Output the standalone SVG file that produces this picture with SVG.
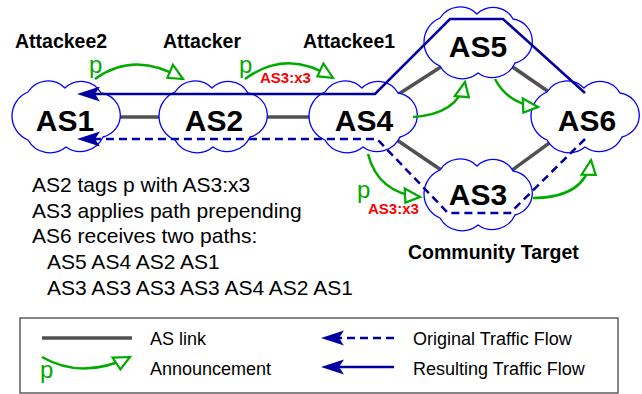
<svg xmlns="http://www.w3.org/2000/svg" width="642" height="394" viewBox="0 0 642 394">
<style>
.cloud{fill:#fff;stroke:#0000ff;stroke-width:1.3}
.asl{font-family:"Liberation Sans",Arial,sans-serif;font-weight:bold;font-size:30px;text-anchor:middle;fill:#000}
.lbl{font-family:"Liberation Sans",Arial,sans-serif;font-weight:bold;font-size:19.5px;fill:#000}
.txt{font-family:"Liberation Sans",Arial,sans-serif;font-size:21px;fill:#000}
.leg{font-family:"Liberation Sans",Arial,sans-serif;font-size:18px;fill:#000}
.p{font-family:"Liberation Sans",Arial,sans-serif;font-size:24px;fill:#00aa00}
.com{font-family:"Liberation Sans",Arial,sans-serif;font-weight:bold;font-size:15px;fill:#ff0000}
.link{stroke:#505050;stroke-width:3.5;fill:none}
.ann{stroke:#00aa00;stroke-width:2.5;fill:none;marker-end:url(#gh)}
.res{stroke:#0000a0;stroke-width:2.5;fill:none;marker-end:url(#bh)}
.orig{stroke:#0000a0;stroke-width:2.5;fill:none;stroke-dasharray:8,5;marker-end:url(#bh)}
</style>
<defs>
<path id="cl" d="M-38,-25 A23.7,23.7 0 0 1 -1,-29 A22.8,22.8 0 0 1 35,-24 A22.4,22.4 0 0 1 37,20 A24.9,24.9 0 0 1 0,30 A25.2,25.2 0 0 1 -38,23 A26,26 0 0 1 -38,-25 Z"/>
<marker id="bh" markerUnits="userSpaceOnUse" viewBox="-25 -10 30 20" markerWidth="30" markerHeight="20" refX="-18" refY="0" orient="auto">
<path d="M0,0 L-23,-7.5 L-18,0 L-23,7.5 Z" fill="#0000a0"/>
</marker>
<marker id="gh" markerUnits="userSpaceOnUse" viewBox="-20 -11 24 22" markerWidth="24" markerHeight="22" refX="0" refY="0" orient="auto">
<path d="M0,0 L-16,-7 L-14,7 Z" fill="#fff" stroke="#00aa00" stroke-width="2.2"/>
</marker>
</defs>

<g id="links">
<line class="link" x1="66" y1="117" x2="213" y2="117"/>
<line class="link" x1="213" y1="117" x2="363" y2="117"/>
<line class="link" x1="363" y1="117" x2="478" y2="43"/>
<line class="link" x1="478" y1="43" x2="585" y2="117"/>
<line class="link" x1="363" y1="117" x2="478" y2="195"/>
<line class="link" x1="478" y1="195" x2="585" y2="117"/>
</g>

<g id="AS1"><use href="#cl" class="cloud" transform="translate(66,117)"/><text class="asl" x="65" y="131">AS1</text></g>
<g id="AS2"><use href="#cl" class="cloud" transform="translate(213,117)"/><text class="asl" x="214" y="131">AS2</text></g>
<g id="AS4"><use href="#cl" class="cloud" transform="translate(363,117)"/><text class="asl" x="364" y="131">AS4</text></g>
<g id="AS5"><use href="#cl" class="cloud" transform="translate(478,43)"/><text class="asl" x="478" y="57">AS5</text></g>
<g id="AS6"><use href="#cl" class="cloud" transform="translate(585,117)"/><text class="asl" x="587" y="131">AS6</text></g>
<g id="AS3"><use href="#cl" class="cloud" transform="translate(478,195)"/><text class="asl" x="478" y="205">AS3</text></g>

<g id="connectors">
<path class="res" d="M585,93 L503,19 L450,19 L375,94 L95,94"/>
<path class="orig" d="M585,139 L510,213 L448,213 L377,139 L95,139"/>
<path class="ann" d="M95,79 Q135,50 183,79"/>
<path class="ann" d="M245,79 Q287,48 333,78"/>
<path class="ann" d="M413,117 Q458,114 465,82"/>
<path class="ann" d="M495,79 Q508,104 538,107"/>
<path class="ann" d="M368,154 Q378,193 420,197"/>
<path class="ann" d="M533,198 Q585,198 591,160"/>
</g>

<g id="labels">
<text class="lbl" x="15" y="48">Attackee2</text>
<text class="lbl" x="163" y="48">Attacker</text>
<text class="lbl" x="303" y="48">Attackee1</text>
<text class="lbl" x="408" y="259">Community Target</text>
<text class="p" x="89" y="73">p</text>
<text class="p" x="239" y="73">p</text>
<text class="com" x="260" y="83">AS3:x3</text>
<text class="p" x="357" y="198">p</text>
<text class="com" x="368" y="214">AS3:x3</text>
</g>

<g id="notes">
<text class="txt" x="32" y="192">AS2 tags p with AS3:x3</text>
<text class="txt" x="32" y="218">AS3 applies path prepending</text>
<text class="txt" x="32" y="243">AS6 receives two paths:</text>
<text class="txt" x="47" y="269">AS5 AS4 AS2 AS1</text>
<text class="txt" x="47" y="295">AS3 AS3 AS3 AS3 AS4 AS2 AS1</text>
</g>

<g id="legend">
<rect x="20" y="318" width="598" height="75" fill="none" stroke="#444" stroke-width="1.3"/>
<line class="link" x1="42" y1="338" x2="132" y2="338"/>
<path class="ann" d="M42,357 Q82,380 130,357"/>
<text class="p" x="40" y="378">p</text>
<text class="leg" x="150" y="345">AS link</text>
<text class="leg" x="150" y="375">Announcement</text>
<path class="orig" d="M394,338 L339,338"/>
<path class="res" d="M394,367 L339,367"/>
<text class="leg" x="413" y="345">Original Traffic Flow</text>
<text class="leg" x="413" y="375">Resulting Traffic Flow</text>
</g>
</svg>
